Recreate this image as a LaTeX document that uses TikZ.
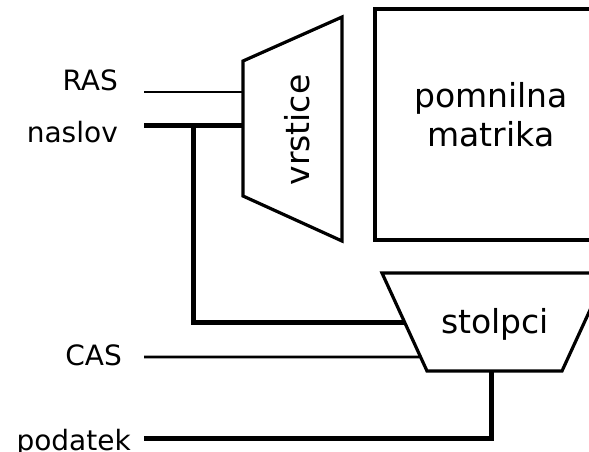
\documentclass[tikz,border=0pt]{standalone}
\usepackage{fontspec}
\setmainfont{DejaVu Sans}
\usetikzlibrary{calc}
\begin{document}
\begin{tikzpicture}[x=1pt,y=-1pt,
  sig/.style={line width=2.6pt},
  bus/.style={line width=5pt},
  box/.style={line width=3.2pt, line join=miter},
  lbl/.style={font=\fontsize{28}{33}\selectfont, anchor=east, inner sep=0pt},
  blbl/.style={font=\fontsize{33}{39}\selectfont, align=center, inner sep=0pt}]
\useasboundingbox (0,0) rectangle (589,452);
\clip (0,0) rectangle (589,452);
% memory matrix
\draw[box] (375,9) rectangle (625,240);
\node[blbl] (mat) at (491,114.5) {pomnilna\\matrika};
% row decoder
\coordinate (vTL) at (243,61);
\coordinate (vTR) at (342,17);
\coordinate (vBR) at (342,241);
\coordinate (vBL) at (243,196);
\draw[box] (vTL) -- (vTR) -- (vBR) -- (vBL) -- cycle;
\node[blbl, rotate=90] (vr) at (297,130) {vrstice};
% column decoder
\coordinate (sTL) at (382,273);
\coordinate (sTR) at (607,273);
\coordinate (sBR) at (562,371);
\coordinate (sBL) at (427,371);
\draw[box] (sTL) -- (sTR) -- (sBR) -- (sBL) -- cycle;
\node[blbl] (st) at (495,324) {stolpci};
% labels
\node[lbl] (ras) at (118,80) {RAS};
\node[lbl] (nas) at (118,132) {naslov};
\node[lbl] (cas) at (122,355.5) {CAS};
\node[lbl] (pod) at (131,443) {podatek};
% connection points
\coordinate (rasS) at (144,92);
\coordinate (rasE) at (243,92);
\coordinate (nasS) at (144,125);
\coordinate (nasE) at (243,125);
\coordinate (jn) at (193,125);
\coordinate (colA) at ($(sTL)!0.51!(sBL)$);
\coordinate (casS) at (144,357);
\coordinate (casE) at ($(sTL)!0.857!(sBL)$);
\coordinate (podS) at (144,438);
\coordinate (podE) at (491,371);
% connectors
\draw[sig] (rasS) -- (rasE);
\draw[bus] (nasS) -- (nasE);
\draw[bus, line join=miter] (jn) |- (colA);
\draw[sig] (casS) -- (casE);
\draw[bus, line join=miter] (podS) -| (podE);
\end{tikzpicture}
\end{document}
